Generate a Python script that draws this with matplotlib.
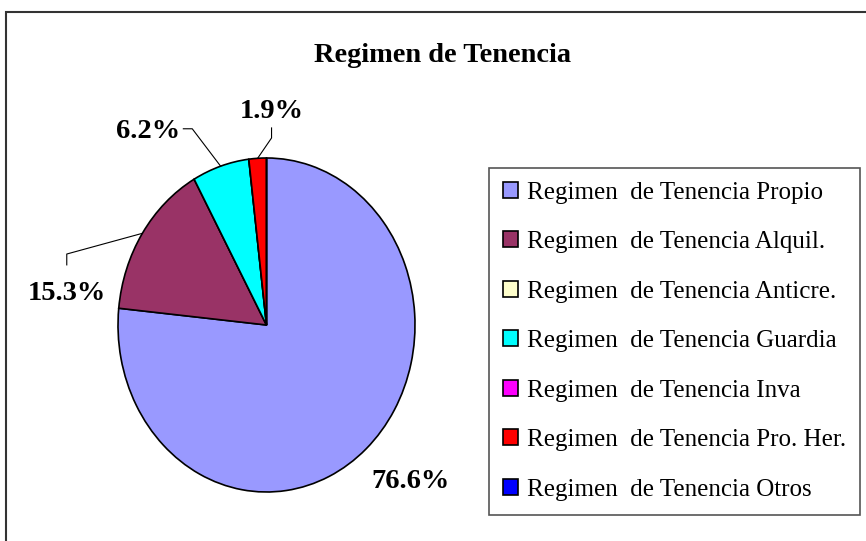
import numpy as np
import matplotlib.pyplot as plt
from matplotlib.patches import Rectangle, Patch

plt.rcParams['font.family'] = ['Liberation Serif', 'DejaVu Serif']

# data
labels = ['Regimen  de Tenencia Propio', 'Regimen  de Tenencia Alquil.',
          'Regimen  de Tenencia Anticre.', 'Regimen  de Tenencia Guardia',
          'Regimen  de Tenencia Inva', 'Regimen  de Tenencia Pro. Her.',
          'Regimen  de Tenencia Otros']
values = [76.6, 15.3, 0.0, 6.2, 0.0, 1.9, 0.0]
colors = ['#9999FF', '#993366', '#FFFFCC', '#00FFFF', '#FF00FF', '#FF0000', '#0000FF']

W, H = 866, 541
fig = plt.figure(figsize=(W / 100, H / 100), dpi=100)

# outer chart frame (cut by image edges on right/bottom)
fig.patches.append(Rectangle((6 / W, -0.05), 1.1, 1 - 12 / H + 0.05,
                             transform=fig.transFigure, fill=False,
                             edgecolor='#333333', linewidth=1.5))

fig.text(443 / W, 1 - 56 / H, 'Regimen de Tenencia', ha='center', va='center',
         fontsize=20.4, fontweight='bold')

# pie axes (elliptical, like the original)
ax = fig.add_axes([118 / W, 1 - 492 / H, 297 / W, 334 / H])
wedges, _ = ax.pie(values, colors=colors, startangle=90, counterclock=False,
                   wedgeprops=dict(edgecolor='black', linewidth=1.2))
ax.set_aspect('auto')
ax.set_xlim(-1, 1)
ax.set_ylim(-1, 1)
ax.axis('off')

# labels for non-zero slices
lab_pos = {0: (0.97, -0.94), 1: (-1.345, 0.19), 3: (-0.8, 1.16), 5: (0.035, 1.28)}
line_pts = {1: [(-1.345, 0.36), (-1.345, 0.425)],
            3: [(-0.56, 1.175), (-0.5, 1.175)],
            5: [(0.034, 1.18), (0.034, 1.12)]}
for i, w in enumerate(wedges):
    if values[i] == 0:
        continue
    ang = np.deg2rad((w.theta1 + w.theta2) / 2)
    ex, ey = np.cos(ang), np.sin(ang)
    tx, ty = lab_pos[i]
    ax.text(tx, ty, f'{values[i]:.1f}%', ha='center', va='center',
            fontsize=20.5, fontweight='bold', clip_on=False)
    if i in line_pts:
        pts = line_pts[i] + [(ex, ey)]
        xs, ys = zip(*pts)
        ax.plot(xs, ys, color='black', linewidth=0.8, clip_on=False)

handles = [Patch(facecolor=c, edgecolor='black', linewidth=1.2) for c in colors]
leg = fig.legend(handles, labels, loc='upper left',
                 bbox_to_anchor=(489 / W, 1 - 168 / H), borderaxespad=0,
                 fontsize=18, handlelength=0.6, handleheight=0.6,
                 handletextpad=0.37, labelspacing=1.1, borderpad=0.55,
                 fancybox=False, edgecolor='#555555', framealpha=1)
leg.get_frame().set_linewidth(1.2)

fig.savefig('out.png', dpi=100)
